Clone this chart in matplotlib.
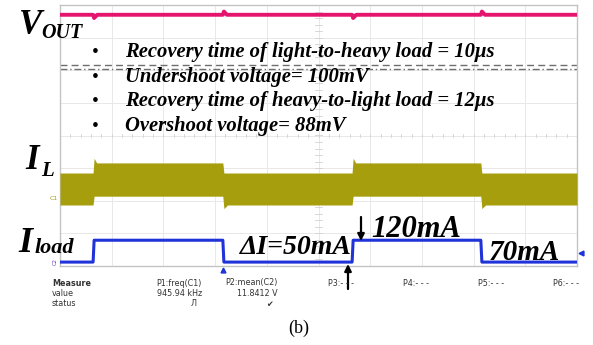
import numpy as np
import matplotlib
matplotlib.use("Agg")
import matplotlib.pyplot as plt

# ---- scope traces (time in divisions, amplitude in divisions) ----
step_times = [0.64, 3.15, 5.65, 8.14]          # load step edges: up, down, up, down

# V_OUT trace
vout_level = 3.70
vout_under = 3.60      # dip after light-to-heavy step
vout_over = 3.80       # bump after heavy-to-light step

# I_L band (top / bottom edge of the switching ripple)
il_light_top, il_light_bot = -1.15, -2.13
il_heavy_top, il_heavy_bot = -0.84, -1.86
il_peak_top = -0.70
il_dip_bot = -2.24

# I_load trace
iload_low = -3.88
iload_high = -3.21

meas_headers = ["P1:freq(C1)", "P2:mean(C2)"]
meas_values = ["945.94 kHz", "11.8412 V"]
meas_status = ["Л", "✔"]
empty_params = ["P3:- - -", "P4:- - -", "P5:- - -", "P6:- - -"]

bullets = [
    "Recovery time of light-to-heavy load = 10μs",
    "Undershoot voltage= 100mV",
    "Recovery time of heavy-to-light load = 12μs",
    "Overshoot voltage= 88mV",
]

W, H = 593, 345
fig = plt.figure(figsize=(W / 100, H / 100), dpi=100)
fig.patch.set_facecolor("white")

# screen axes
sx0, sx1, sy0, sy1 = 60, 577, 5, 266
ax = fig.add_axes([sx0 / W, 1 - sy1 / H, (sx1 - sx0) / W, (sy1 - sy0) / H])
ax.set_xlim(0, 10)
ax.set_ylim(-4, 4)
ax.set_xticks([]); ax.set_yticks([])
for s in ax.spines.values():
    s.set_color("#c4c4c4"); s.set_linewidth(1.0)

grid_c = "#e8e8e8"
for gx in range(1, 10):
    ax.axvline(gx, color=grid_c, lw=0.7, zorder=0)
for gy in range(-3, 4):
    ax.axhline(gy, color=grid_c, lw=0.7, zorder=0)
# center axes tick marks
for t in np.arange(0.2, 10, 0.2):
    ax.plot([t, t], [-0.06, 0.06], color="#d2d2d2", lw=0.6, zorder=0)
for t in np.arange(-3.8, 4, 0.2):
    ax.plot([4.94, 5.06], [t, t], color="#d2d2d2", lw=0.6, zorder=0)

t_up1, t_dn1, t_up2, t_dn2 = step_times
ramp = 0.02

# V_OUT
vx, vy = [0], [vout_level]
for tu, td in [(t_up1, t_dn1), (t_up2, t_dn2)]:
    vx += [tu, tu + 0.02, tu + 0.08, td, td + 0.02, td + 0.08]
    vy += [vout_level, vout_under, vout_level, vout_level, vout_over, vout_level]
vx.append(10); vy.append(vout_level)
ax.plot(vx, vy, color="#e5156e", lw=2.8, solid_joinstyle="round", zorder=3)

# dashed reference cursors
ax.axhline(2.15, color="#6e6e6e", lw=1.0, ls=(0, (5, 3)), zorder=2)
ax.axhline(2.05, color="#6e6e6e", lw=1.0, ls=(0, (5, 2, 1, 2)), zorder=2)

# I_L band
bx, btop, bbot = [0], [il_light_top], [il_light_bot]
for tu, td in [(t_up1, t_dn1), (t_up2, t_dn2)]:
    bx += [tu - 0.001, tu + ramp, tu + 0.07, td - 0.001, td + ramp, td + 0.09]
    btop += [il_light_top, il_peak_top, il_heavy_top, il_heavy_top, il_light_top, il_light_top]
    bbot += [il_light_bot, il_heavy_bot, il_heavy_bot, il_heavy_bot, il_dip_bot, il_light_bot]
bx.append(10); btop.append(il_light_top); bbot.append(il_light_bot)
ax.fill_between(bx, bbot, btop, color="#a69e0c", lw=0, zorder=3)

# I_load
lx = [0, t_up1, t_up1 + ramp, t_dn1, t_dn1 + ramp, t_up2, t_up2 + ramp, t_dn2, t_dn2 + ramp, 10]
ly = [iload_low, iload_low, iload_high, iload_high, iload_low, iload_low, iload_high,
      iload_high, iload_low, iload_low]
ax.plot(lx, ly, color="#1f33d8", lw=2.2, zorder=3)

# channel / trigger markers
ax.text(-0.04, -1.92, "C1", color="#a69e0c", fontsize=4.5, ha="right", va="center",
        clip_on=False)
ax.text(-0.04, iload_low + 0.12, "C2", color="#6a3fc8", fontsize=3.8, ha="right",
        va="top", rotation=90, clip_on=False)
ax.plot([10.08], [-3.6], marker="<", color="#1f33d8", ms=3.5, clip_on=False)
ax.plot([t_dn1], [-4.12], marker="^", color="#1f33d8", ms=3.5, clip_on=False)

# ---- overlay for annotation text (pixel coordinates) ----
ov = fig.add_axes([0, 0, 1, 1], facecolor="none")
ov.set_xlim(0, W); ov.set_ylim(H, 0); ov.axis("off")

serif = "Liberation Serif"
big = dict(family=serif, weight="bold", style="italic", color="black")

ov.text(19, 34, "V", fontsize=25, va="baseline", **big)
ov.text(41, 38, "OUT", fontsize=14.5, va="baseline", **big)
ov.text(25, 169, "I", fontsize=25, va="baseline", **big)
ov.text(41, 176, "L", fontsize=15, va="baseline", **big)
ov.text(18, 252, "I", fontsize=26, va="baseline", **big)
ov.text(35, 253, "load", fontsize=16, va="baseline", **big)

for i, line in enumerate(bullets):
    yb = 57 + i * 24.7
    ov.text(95, yb - 4.5, "•", fontsize=14, va="center", ha="center", color="black",
            family=serif)
    ov.text(125, yb, line, fontsize=14.9, va="baseline", **big)

ov.text(240, 254, "ΔI=50mA", fontsize=20, va="baseline", **big)
ov.text(371, 237, "120mA", fontsize=22, va="baseline", **big)
ov.text(489, 260, "70mA", fontsize=21, va="baseline", **big)

ov.annotate("", xy=(361, 241), xytext=(361, 217),
            arrowprops=dict(arrowstyle="-|>", color="black", lw=1.6,
                            mutation_scale=10, shrinkA=0, shrinkB=0))
ov.annotate("", xy=(348, 264), xytext=(348, 289),
            arrowprops=dict(arrowstyle="-|>", color="black", lw=1.6,
                            mutation_scale=10, shrinkA=0, shrinkB=0))

# measurement table
mfont = dict(family="DejaVu Sans", fontsize=5.8, color="#333333")
ov.text(52, 283, "Measure", va="center", weight="bold", **mfont)
ov.text(52, 293.5, "value", va="center", **mfont)
ov.text(52, 304, "status", va="center", **mfont)
for xr, h, v, s in zip([202, 278], meas_headers, meas_values, meas_status):
    ov.text(xr, 283, h, ha="right", va="center", **mfont)
    ov.text(xr, 293.5, v, ha="right", va="center", **mfont)
    ov.text(xr - 5, 304, s, ha="right", va="center", **mfont)
for xl, p in zip([328, 403, 478, 553], empty_params):
    ov.text(xl, 283, p, ha="left", va="center", **mfont)

ov.text(299, 328, "(b)", ha="center", va="center", family=serif, fontsize=13,
        color="black")

fig.savefig("out.png", dpi=100, facecolor="white")
